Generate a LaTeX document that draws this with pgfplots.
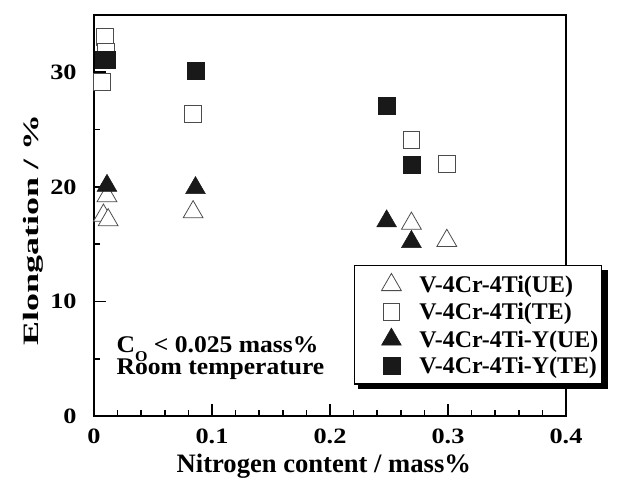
\documentclass[border=0pt]{standalone}
\usepackage{pgfplots}
\pgfplotsset{compat=1.18}
\usepackage{graphicx}
\usepackage{fontspec}
\setmainfont{Liberation Serif}

\begin{document}
\begin{tikzpicture}
\begin{axis}[
  scale only axis, width=472bp, height=401bp,
  xmin=0, xmax=0.4, ymin=0, ymax=35,
  xtick={0,0.1,0.2,0.3,0.4},
  xticklabels={0,0.1,0.2,0.3,0.4},
  ytick={0,10,20,30},
  yticklabels={0,10,20,30},
  minor x tick num=4,
  minor y tick num=1,
  tick pos=left, tick align=inside,
  major tick length=12bp, minor tick length=6bp,
  every tick/.style={line width=1.6pt, black},
  axis line style={line width=3pt},
  /pgf/number format/assume math mode=true,
  xticklabel style={font=\fontsize{22}{22}\selectfont\bfseries, xscale=1.2, yshift=-9bp},
  yticklabel style={font=\fontsize{22}{22}\selectfont\bfseries, xscale=1.2, xshift=-11bp},
  xlabel={Nitrogen content / mass\%},
  xlabel style={at={(rel axis cs:0.487,-0.125)}, anchor=center, font=\fontsize{26.7}{26.7}\selectfont\bfseries},
  ylabel={\scalebox{1.64}[1]{Elongation / \%}},
  ylabel style={at={(rel axis cs:-0.129,0.464)}, anchor=center, font=\fontsize{22}{22}\selectfont\bfseries},
  clip=false,
  legend cell align=left,
  legend image code/.code={\path[draw=none,fill=none] (-35bp,-9bp) rectangle (27bp,9bp);
    \draw[mark repeat=1,#1] plot coordinates {(0bp,0bp)};},
  legend style={at={(rel axis cs:1.076,0.377)}, anchor=north east,
    draw=black, line width=1.2pt, fill=white,
    font=\fontsize{24}{24}\selectfont\bfseries,
    nodes={inner sep=1bp},
    row sep=6.5bp, inner xsep=2bp, inner ysep=8bp},
]
% legend drop shadow (the legend itself is typeset last, on top of it)
\fill[black] (rel axis cs:0.56,0.068) rectangle (rel axis cs:1.089,0.365);

% V-4Cr-4Ti (UE)
\addplot[only marks, mark=triangle*, mark size=11.5pt, mark options={fill=white, draw=black!70, line width=0.8pt}]
coordinates {(0.011,19.2) (0.008,17.5) (0.012,17.1) (0.084,17.8) (0.269,16.8) (0.299,15.3)};
\addlegendentry{V-4Cr-4Ti(UE)}
% V-4Cr-4Ti (TE)
\addplot[only marks, mark=square*, mark size=8.5pt, mark options={fill=white, draw=black!70, line width=0.8pt}]
coordinates {(0.009,33.1) (0.010,31.8) (0.007,29.2) (0.084,26.4) (0.269,24.1) (0.299,22.0)};
\addlegendentry{V-4Cr-4Ti(TE)}
% V-4Cr-4Ti-Y (UE)
\addplot[only marks, mark=triangle*, mark size=11.5pt, mark options={fill=black!90, draw=black!90, line width=0.5pt}]
coordinates {(0.011,20.1) (0.086,19.9) (0.248,17.0) (0.269,15.2)};
\addlegendentry{V-4Cr-4Ti-Y(UE)}
% V-4Cr-4Ti-Y (TE)
\addplot[only marks, mark=square*, mark size=8.5pt, mark options={fill=black!90, draw=black!90, line width=0.5pt}]
coordinates {(0.008,31.1) (0.011,31.1) (0.086,30.1) (0.248,27.1) (0.269,21.9)};
\addlegendentry{V-4Cr-4Ti-Y(TE)}

\node[anchor=base west, font=\fontsize{24}{24}\selectfont\bfseries, xscale=1.07] at (axis cs:0.016,5.5)
  {C\raisebox{-0.36em}{\fontsize{15}{15}\selectfont O} < 0.025 mass\%};
\node[anchor=base west, font=\fontsize{24}{24}\selectfont\bfseries, xscale=1.07] at (axis cs:0.016,3.6)
  {Room temperature};
\coordinate (O) at (rel axis cs:0,0);
\coordinate (T) at (rel axis cs:1,1);
\end{axis}
\pgfresetboundingbox
\path ([shift={(-94bp,-68bp)}]O) rectangle ([shift={(53bp,15bp)}]T);
\end{tikzpicture}
\end{document}
